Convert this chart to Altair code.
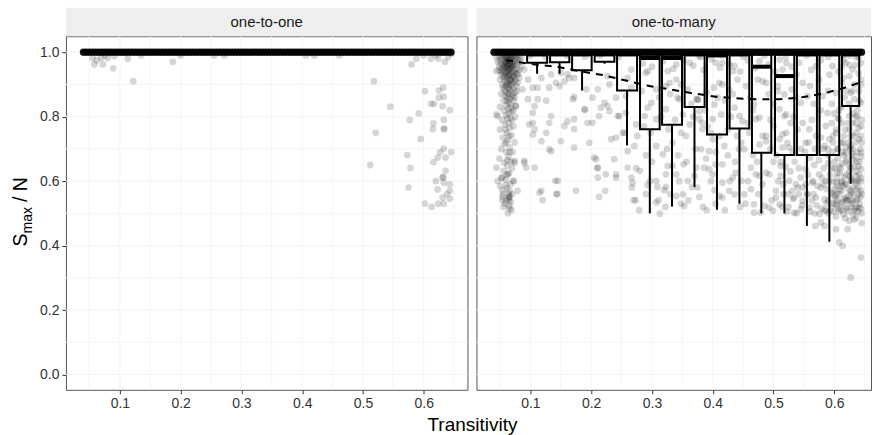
import altair as alt
import pandas as pd

# ---------------- data ----------------
# x positions of the observations sitting at S_max/N = 1.0 (both panels)
band_x = [0.040,0.045,0.050,0.055,0.060,0.065,0.070,0.075,0.080,0.085,0.090,0.095,0.100,0.105,0.110,0.115,
          0.120,0.125,0.130,0.135,0.140,0.145,0.150,0.155,0.160,0.165,0.170,0.175,0.180,0.185,0.190,0.195,
          0.200,0.205,0.210,0.215,0.220,0.225,0.230,0.235,0.240,0.245,0.250,0.255,0.260,0.265,0.270,0.275,
          0.280,0.285,0.290,0.295,0.300,0.305,0.310,0.315,0.320,0.325,0.330,0.335,0.340,0.345,0.350,0.355,
          0.360,0.365,0.370,0.375,0.380,0.385,0.390,0.395,0.400,0.405,0.410,0.415,0.420,0.425,0.430,0.435,
          0.440,0.445,0.450,0.455,0.460,0.465,0.470,0.475,0.480,0.485,0.490,0.495,0.500,0.505,0.510,0.515,
          0.520,0.525,0.530,0.535,0.540,0.545,0.550,0.555,0.560,0.565,0.570,0.575,0.580,0.585,0.590,0.595,
          0.600,0.605,0.610,0.615,0.620,0.625,0.630,0.635,0.640,0.645]

# one-to-one panel: observations below 1.0
left_pts = [[0.058,0.962],[0.072,0.962],[0.089,0.950],[0.055,0.982],[0.069,0.982],[0.080,0.982],[0.091,0.988],
            [0.062,0.975],[0.075,0.990],[0.113,0.980],[0.135,0.990],[0.122,0.910],[0.187,0.970],[0.200,0.990],
            [0.255,0.990],[0.272,0.990],[0.406,0.990],[0.420,0.990],[0.461,0.990],[0.518,0.910],[0.512,0.650],
            [0.521,0.750],[0.545,0.831],[0.580,0.962],[0.588,0.980],[0.612,0.980],[0.624,0.980],[0.635,0.970],
            [0.602,0.879],[0.625,0.881],[0.632,0.890],[0.612,0.840],[0.617,0.840],[0.625,0.859],[0.633,0.862],
            [0.631,0.833],[0.643,0.820],[0.592,0.810],[0.577,0.790],[0.616,0.779],[0.633,0.790],[0.615,0.761],
            [0.633,0.761],[0.634,0.763],[0.595,0.731],[0.573,0.681],[0.578,0.641],[0.616,0.659],[0.623,0.673],
            [0.636,0.673],[0.633,0.701],[0.627,0.690],[0.645,0.690],[0.620,0.600],[0.631,0.611],[0.632,0.613],
            [0.636,0.632],[0.633,0.595],[0.643,0.590],[0.623,0.574],[0.643,0.570],[0.631,0.549],[0.643,0.546],
            [0.575,0.580],[0.602,0.530],[0.613,0.520],[0.624,0.530],[0.633,0.530],[0.638,0.560],
            [0.600,0.990],[0.620,0.990],[0.640,0.985],[0.645,0.995]]

# one-to-many panel: dense cluster at low transitivity
right_cluster_low = [[0.048,0.990],[0.052,0.985],[0.056,0.992],[0.060,0.988],[0.064,0.993],[0.068,0.986],[0.072,0.991],
                     [0.076,0.987],[0.080,0.992],[0.050,0.975],[0.054,0.978],[0.058,0.972],[0.062,0.980],[0.066,0.974],
                     [0.070,0.979],[0.074,0.971],[0.078,0.977],[0.082,0.981],[0.051,0.965],[0.055,0.960],[0.059,0.966],
                     [0.063,0.958],[0.067,0.963],[0.071,0.957],[0.075,0.962],[0.079,0.966],[0.053,0.950],[0.057,0.945],
                     [0.061,0.952],[0.065,0.947],[0.069,0.951],[0.073,0.944],[0.077,0.949],[0.055,0.938],[0.059,0.933],
                     [0.063,0.940],[0.067,0.935],[0.071,0.930],[0.075,0.936],[0.057,0.925],[0.061,0.920],[0.065,0.927],
                     [0.069,0.918],[0.073,0.923],[0.058,0.910],[0.062,0.905],[0.066,0.912],[0.070,0.903],[0.074,0.908],
                     [0.060,0.895],[0.064,0.890],[0.068,0.897],[0.072,0.888],[0.059,0.878],[0.063,0.872],[0.067,0.880],
                     [0.071,0.868],[0.062,0.860],[0.066,0.855],[0.070,0.862],[0.060,0.997],[0.065,0.997],[0.070,0.997],
                     [0.055,0.997],[0.058,0.982],[0.066,0.982],[0.074,0.982],[0.062,0.965],[0.070,0.965],[0.060,0.955],
                     [0.068,0.955],[0.064,0.945],[0.064,0.930],[0.066,0.915],[0.064,0.900],[0.064,0.845],[0.060,0.835],
                     [0.068,0.828],[0.057,0.818],[0.065,0.810],[0.062,0.795],[0.070,0.788],[0.058,0.775],[0.066,0.765],
                     [0.061,0.750],[0.069,0.742],[0.063,0.728],[0.057,0.715],[0.066,0.705],[0.060,0.690],[0.064,0.676],
                     [0.068,0.660],[0.062,0.648],[0.056,0.632],[0.065,0.625],[0.059,0.605],[0.067,0.590],[0.061,0.578],
                     [0.055,0.560],[0.064,0.548],[0.058,0.530],[0.066,0.515],[0.063,0.500],[0.046,0.802],[0.044,0.941],
                     [0.076,0.833],[0.074,0.663],[0.044,0.807]]

right_cluster_low2 = [[0.044,0.985],[0.046,0.970],[0.049,0.955],[0.083,0.970],[0.085,0.955],[0.081,0.945],[0.052,0.940],
                      [0.078,0.930],[0.056,0.920],[0.076,0.915],[0.054,0.900],[0.077,0.895],[0.057,0.885],[0.075,0.875],
                      [0.058,0.865],[0.073,0.850],[0.061,0.850],[0.067,0.840],[0.063,0.825],[0.069,0.815],[0.060,0.805],
                      [0.067,0.795],[0.064,0.780],[0.059,0.760],[0.065,0.740],[0.060,0.720],[0.066,0.690],[0.062,0.665],
                      [0.061,0.620],[0.066,0.570],[0.060,0.540],[0.062,0.975],[0.068,0.970],[0.058,0.960],[0.066,0.950],
                      [0.060,0.940],[0.070,0.940],[0.062,0.925],[0.068,0.910],[0.060,0.900],[0.066,0.885],[0.064,0.870]]

right_cluster_low3 = [[0.048,0.945],[0.052,0.930],[0.072,0.925],[0.080,0.935],[0.050,0.915],[0.082,0.920],[0.055,0.890],
                      [0.079,0.905],[0.052,0.870],[0.078,0.880],[0.056,0.850],[0.074,0.860],[0.050,0.830],[0.072,0.820],
                      [0.054,0.790],[0.075,0.800],[0.050,0.760],[0.072,0.770],[0.055,0.735],[0.074,0.720],[0.052,0.700],
                      [0.071,0.690],[0.049,0.670],[0.070,0.640],[0.052,0.610],[0.073,0.600],[0.050,0.585],[0.070,0.560],
                      [0.056,0.520],[0.068,0.535],[0.060,0.985],[0.070,0.985],[0.065,0.975],[0.060,0.970],[0.072,0.960],
                      [0.056,0.955],[0.064,0.962]]

right_upper = [[0.090,0.946],[0.096,0.915],[0.087,0.885],[0.112,0.890],[0.118,0.920],[0.131,0.890],[0.142,0.905],
               [0.134,0.931],[0.150,0.936],[0.161,0.931],[0.172,0.920],[0.156,0.910],[0.148,0.895],[0.096,0.854],
               [0.112,0.854],[0.126,0.850],[0.172,0.861],[0.192,0.885],[0.202,0.859],[0.211,0.885],[0.230,0.900],
               [0.227,0.926],[0.241,0.859],[0.260,0.920],[0.266,0.946],[0.266,0.890],[0.257,0.864],[0.293,0.941],
               [0.326,0.941],[0.323,0.895],[0.293,0.828],[0.107,0.833],[0.104,0.812],[0.076,0.833],[0.290,0.936],
               [0.307,0.885],[0.299,0.843],[0.323,0.823],[0.329,0.905],[0.340,0.962],[0.342,0.859],[0.351,0.807],
               [0.359,0.885],[0.375,0.854],[0.376,0.852],[0.378,0.817],[0.405,0.967],[0.416,0.900],[0.408,0.859],
               [0.433,0.941],[0.436,0.828],[0.468,0.838],[0.482,0.910],[0.510,0.977],[0.507,0.879],[0.521,0.807],
               [0.104,0.890],[0.164,0.920],[0.170,0.854],[0.189,0.823],[0.190,0.821],[0.222,0.843],[0.227,0.833],
               [0.246,0.802],[0.340,0.915],[0.345,0.854],[0.362,0.967],[0.378,0.988],[0.373,0.854],[0.378,0.792],
               [0.383,0.781],[0.416,0.967],[0.411,0.905],[0.403,0.838],[0.414,0.807],[0.427,0.885],[0.436,0.957],
               [0.441,0.915],[0.444,0.802],[0.477,0.972],[0.474,0.915],[0.471,0.792],[0.488,0.905],[0.521,0.967],
               [0.515,0.946],[0.507,0.895],[0.518,0.869],[0.510,0.823],[0.518,0.802],[0.542,0.967],[0.548,0.905],
               [0.545,0.843],[0.556,0.864],[0.548,0.781],[0.559,0.761],[0.570,0.957],[0.575,0.915],[0.581,0.864],
               [0.589,0.812],[0.586,0.771],[0.597,0.957],[0.603,0.874],[0.608,0.792],[0.606,0.795],[0.603,0.750],
               [0.619,0.967],[0.625,0.926],[0.630,0.946],[0.627,0.874],[0.633,0.854],[0.625,0.802],[0.638,0.802],
               [0.630,0.781],[0.636,0.750],[0.641,0.730],[0.644,0.967],[0.644,0.915],[0.644,0.843],[0.644,0.771],
               [0.085,0.985],[0.100,0.990],[0.125,0.985],[0.160,0.990],[0.190,0.986],[0.215,0.990],[0.245,0.985],
               [0.280,0.990],[0.310,0.986],[0.345,0.990],[0.380,0.985],[0.415,0.990],[0.450,0.986],[0.485,0.990],
               [0.520,0.985],[0.555,0.990],[0.590,0.986],[0.615,0.990],[0.640,0.985]]

right_mid = [[0.098,0.776],[0.107,0.761],[0.126,0.750],[0.131,0.781],[0.134,0.802],[0.156,0.771],[0.161,0.786],
             [0.172,0.792],[0.172,0.761],[0.194,0.781],[0.202,0.781],[0.213,0.802],[0.216,0.828],[0.230,0.817],
             [0.244,0.802],[0.257,0.812],[0.252,0.750],[0.274,0.776],[0.276,0.740],[0.271,0.709],[0.260,0.693],
             [0.233,0.730],[0.197,0.719],[0.172,0.704],[0.134,0.693],[0.090,0.663],[0.208,0.668],[0.238,0.668],
             [0.307,0.709],[0.318,0.683],[0.288,0.802],[0.307,0.792],[0.362,0.776],[0.383,0.761],[0.397,0.750],
             [0.400,0.792],[0.449,0.786],[0.477,0.797],[0.488,0.724],[0.515,0.745],[0.526,0.704],[0.104,0.781],
             [0.104,0.745],[0.118,0.724],[0.131,0.699],[0.150,0.724],[0.205,0.673],[0.241,0.735],[0.255,0.750],
             [0.348,0.750],[0.334,0.719],[0.381,0.699],[0.394,0.693],[0.411,0.740],[0.400,0.730],[0.419,0.709],
             [0.447,0.719],[0.452,0.699],[0.460,0.750],[0.488,0.740],[0.482,0.740],[0.477,0.714],[0.521,0.750],
             [0.510,0.730],[0.523,0.719],[0.515,0.704],[0.553,0.719],[0.592,0.730],[0.584,0.709],[0.614,0.719],
             [0.627,0.709],[0.644,0.688],[0.619,0.688],[0.633,0.678]]

right_low = [[0.044,0.642],[0.057,0.657],[0.074,0.657],[0.090,0.657],[0.093,0.642],[0.107,0.642],[0.046,0.601],
             [0.054,0.611],[0.063,0.621],[0.071,0.601],[0.060,0.588],[0.054,0.572],[0.064,0.561],[0.065,0.551],
             [0.066,0.553],[0.079,0.570],[0.054,0.551],[0.054,0.541],[0.065,0.541],[0.065,0.523],[0.069,0.510],
             [0.118,0.570],[0.120,0.541],[0.141,0.601],[0.144,0.561],[0.175,0.570],[0.210,0.640],[0.211,0.642],
             [0.211,0.611],[0.213,0.551],[0.223,0.570],[0.241,0.621],[0.241,0.611],[0.266,0.611],[0.274,0.640],
             [0.280,0.632],[0.267,0.580],[0.270,0.541],[0.273,0.541],[0.279,0.510],[0.293,0.588],[0.307,0.601],
             [0.309,0.582],[0.320,0.572],[0.323,0.582],[0.307,0.534],[0.311,0.541],[0.313,0.499],[0.322,0.520],
             [0.323,0.621],[0.326,0.647],[0.143,0.559],[0.145,0.601],[0.115,0.564],[0.224,0.621],[0.260,0.642],
             [0.268,0.595],[0.334,0.647],[0.340,0.621],[0.352,0.652],[0.373,0.642],[0.359,0.601],[0.366,0.582],
             [0.370,0.616],[0.351,0.559],[0.340,0.554],[0.348,0.530],[0.353,0.523],[0.378,0.551],[0.390,0.510],
             [0.386,0.642],[0.394,0.637],[0.400,0.621],[0.405,0.652],[0.416,0.652],[0.416,0.595],[0.403,0.572],
             [0.411,0.554],[0.416,0.549],[0.405,0.530],[0.427,0.570],[0.433,0.611],[0.438,0.626],[0.447,0.601],
             [0.436,0.559],[0.452,0.559],[0.454,0.530],[0.463,0.575],[0.468,0.528],[0.468,0.502],[0.479,0.502],
             [0.485,0.523],[0.493,0.518],[0.463,0.642],[0.471,0.621],[0.477,0.616],[0.488,0.626],[0.493,0.621],
             [0.499,0.508],[0.504,0.570],[0.504,0.549],[0.510,0.528],[0.512,0.616],[0.512,0.647],[0.526,0.601],
             [0.531,0.570],[0.534,0.549],[0.534,0.502],[0.537,0.590],[0.545,0.611],[0.548,0.580],[0.548,0.539],
             [0.545,0.513],[0.553,0.637],[0.556,0.559],[0.559,0.518],[0.564,0.595],[0.569,0.461],[0.578,0.472],
             [0.584,0.461],[0.570,0.549],[0.575,0.621],[0.578,0.580],[0.584,0.544],[0.587,0.508],[0.592,0.601],
             [0.597,0.564],[0.600,0.528],[0.603,0.451],[0.605,0.626],[0.608,0.508],[0.608,0.410],[0.614,0.399],
             [0.614,0.585],[0.619,0.549],[0.622,0.451],[0.625,0.477],[0.627,0.642],[0.627,0.601],[0.627,0.570],
             [0.630,0.539],[0.633,0.508],[0.636,0.616],[0.636,0.575],[0.638,0.544],[0.641,0.518],[0.644,0.363],
             [0.627,0.301],[0.644,0.637],[0.644,0.599],[0.644,0.570],[0.636,0.487]]

right_extra = [[0.285,0.965],[0.300,0.955],[0.318,0.972],[0.335,0.948],[0.352,0.975],[0.368,0.958],[0.385,0.945],
               [0.398,0.978],[0.412,0.952],[0.428,0.962],[0.445,0.940],[0.458,0.975],[0.470,0.950],[0.492,0.962],
               [0.503,0.940],[0.530,0.955],[0.538,0.930],[0.562,0.945],[0.578,0.975],[0.592,0.930],[0.612,0.955],
               [0.283,0.880],[0.312,0.860],[0.330,0.870],[0.348,0.900],[0.365,0.840],[0.390,0.875],[0.402,0.890],
               [0.420,0.850],[0.433,0.870],[0.455,0.895],[0.462,0.860],[0.492,0.870],[0.500,0.840],[0.530,0.885],
               [0.537,0.860],[0.560,0.895],[0.566,0.840],[0.590,0.880],[0.596,0.840],[0.612,0.905],[0.617,0.860],
               [0.641,0.880],[0.287,0.770],[0.298,0.750],[0.315,0.800],[0.327,0.760],[0.338,0.790],[0.356,0.740],
               [0.368,0.800],[0.388,0.820],[0.392,0.770],[0.425,0.760],[0.430,0.800],[0.440,0.740],[0.458,0.780],
               [0.466,0.820],[0.495,0.790],[0.500,0.770],[0.528,0.780],[0.533,0.800],[0.540,0.760],[0.563,0.790],
               [0.570,0.740],[0.578,0.820],[0.596,0.780],[0.600,0.810],[0.618,0.760],[0.632,0.740],[0.290,0.680],
               [0.300,0.660],[0.325,0.700],[0.343,0.680],[0.357,0.660],[0.372,0.700],[0.389,0.670],[0.405,0.690],
               [0.425,0.680],[0.437,0.660],[0.443,0.700],[0.466,0.680],[0.473,0.660],[0.495,0.700],[0.500,0.660],
               [0.532,0.690],[0.545,0.700],[0.558,0.720],[0.568,0.700],[0.578,0.735],[0.590,0.700],[0.598,0.720],
               [0.606,0.700],[0.623,0.720],[0.638,0.690],[0.290,0.560],[0.297,0.600],[0.330,0.560],[0.345,0.600],
               [0.360,0.540],[0.375,0.580],[0.384,0.520],[0.397,0.600],[0.420,0.510],[0.428,0.600],[0.445,0.520],
               [0.458,0.600],[0.475,0.560],[0.482,0.590],[0.497,0.540],[0.516,0.560],[0.525,0.520],[0.542,0.560],
               [0.553,0.590],[0.566,0.560],[0.582,0.590],[0.590,0.540],[0.604,0.560],[0.612,0.600],[0.621,0.540],
               [0.640,0.560]]

right_cluster_high = [[0.598,0.690],[0.606,0.672],[0.613,0.655],[0.621,0.668],[0.629,0.684],[0.637,0.661],[0.644,0.676],
                      [0.601,0.640],[0.609,0.625],[0.617,0.612],[0.625,0.630],[0.633,0.645],[0.641,0.620],[0.597,0.598],
                      [0.605,0.585],[0.612,0.570],[0.620,0.590],[0.628,0.560],[0.636,0.595],[0.643,0.550],[0.602,0.545],
                      [0.610,0.530],[0.618,0.520],[0.626,0.540],[0.634,0.515],[0.642,0.530],[0.599,0.505],[0.607,0.515],
                      [0.615,0.498],[0.623,0.506],[0.631,0.495],[0.639,0.505],[0.611,0.720],[0.619,0.705],[0.627,0.740],
                      [0.635,0.720],[0.643,0.700],[0.603,0.760],[0.622,0.780],[0.640,0.765],[0.630,0.810],[0.612,0.830],
                      [0.642,0.850],[0.620,0.880],[0.633,0.900],[0.607,0.940],[0.625,0.960],[0.640,0.935],[0.615,0.975],
                      [0.636,0.985],[0.552,0.690],[0.560,0.672],[0.567,0.650],[0.575,0.665],[0.583,0.640],[0.590,0.655],
                      [0.557,0.620],[0.565,0.600],[0.572,0.585],[0.580,0.610],[0.588,0.575],[0.595,0.560],[0.555,0.560],
                      [0.563,0.540],[0.571,0.525],[0.579,0.515],[0.587,0.530],[0.594,0.510],[0.560,0.505],[0.568,0.500],
                      [0.576,0.498],[0.584,0.510],[0.505,0.680],[0.512,0.660],[0.520,0.645],[0.528,0.630],[0.535,0.660],
                      [0.542,0.640],[0.508,0.600],[0.516,0.590],[0.524,0.560],[0.532,0.545],[0.540,0.580],[0.547,0.525],
                      [0.514,0.520],[0.522,0.505],[0.538,0.500]]

right_cluster_high2 = [[0.600,0.660],[0.608,0.645],[0.616,0.680],[0.624,0.650],[0.632,0.665],[0.640,0.645],[0.604,0.610],
                       [0.612,0.595],[0.620,0.620],[0.628,0.605],[0.636,0.630],[0.644,0.610],[0.600,0.575],[0.608,0.560],
                       [0.616,0.545],[0.624,0.575],[0.632,0.560],[0.640,0.580],[0.604,0.525],[0.612,0.510],[0.620,0.540],
                       [0.628,0.520],[0.636,0.540],[0.644,0.515],[0.606,0.700],[0.616,0.740],[0.626,0.700],[0.636,0.780],
                       [0.644,0.740],[0.608,0.820],[0.624,0.840],[0.638,0.820],[0.615,0.920],[0.630,0.880],[0.644,0.900],
                       [0.635,0.960],[0.625,0.990]]

right_cluster_high3 = [[0.582,0.700],[0.590,0.680],[0.596,0.640],[0.604,0.595],[0.611,0.640],[0.619,0.660],[0.626,0.615],
                       [0.634,0.600],[0.642,0.660],[0.586,0.600],[0.593,0.620],[0.601,0.555],[0.609,0.575],[0.617,0.590],
                       [0.624,0.555],[0.631,0.580],[0.639,0.600],[0.645,0.560],[0.590,0.500],[0.597,0.530],[0.605,0.540],
                       [0.613,0.535],[0.621,0.515],[0.629,0.530],[0.637,0.520],[0.645,0.500],[0.603,0.490],[0.618,0.485],
                       [0.633,0.480],[0.645,0.470],[0.614,0.690],[0.630,0.700],[0.645,0.720],[0.598,0.740],[0.625,0.760],
                       [0.636,0.800],[0.612,0.780],[0.645,0.790]]

# box-plot summaries per transitivity bin (one-to-many)
box_x0 = [0.0946,0.1324,0.1686,0.2058,0.2426,0.2804,0.3166,0.3538,0.3906,0.4278,0.4646,0.5025,0.5386,0.5758,0.6127]
box_x1 = [0.1275,0.1641,0.2008,0.2382,0.2755,0.3127,0.3495,0.3867,0.4235,0.4602,0.4964,0.5342,0.5715,0.6082,0.6411]
box_xc = [0.111,0.148,0.185,0.222,0.259,0.2965,0.333,0.370,0.407,0.444,0.480,0.518,0.555,0.592,0.627]
box_low = [0.933,0.933,0.881,0.964,0.711,0.500,0.521,0.582,0.511,0.530,0.500,0.500,0.461,0.412,0.592]
box_q1 = [0.967,0.969,0.944,0.970,0.881,0.761,0.775,0.830,0.745,0.763,0.688,0.681,0.681,0.681,0.833]
box_med = [0.993,0.993,0.993,0.993,0.993,0.982,0.982,0.993,0.990,0.993,0.955,0.926,0.993,0.993,0.993]
box_q3 = [0.993,0.993,0.993,0.993,0.993,0.993,0.993,0.993,0.993,0.993,0.993,0.993,0.993,0.993,0.993]

# smooth trend (one-to-many)
smooth_x = [0.060,0.085,0.107,0.144,0.181,0.219,0.255,0.296,0.329,0.362,0.405,0.438,0.471,0.510,0.543,0.581,0.614,0.641]
smooth_y = [0.975,0.968,0.962,0.955,0.941,0.929,0.913,0.895,0.885,0.874,0.862,0.857,0.854,0.854,0.859,0.871,0.888,0.905]

x_ticks = [0.1, 0.2, 0.3, 0.4, 0.5, 0.6]
y_ticks = [0.0, 0.2, 0.4, 0.6, 0.8, 1.0]
grid_x = [0.05, 0.10, 0.15, 0.20, 0.25, 0.30, 0.35, 0.40, 0.45, 0.50, 0.55, 0.60, 0.65]
grid_y = [0.0, 0.1, 0.2, 0.3, 0.4, 0.5, 0.6, 0.7, 0.8, 0.9, 1.0]
panels = ["one-to-one", "one-to-many"]

# ---------------- layout ----------------
FONT = "Liberation Sans"
W_L, W_R, H = 402, 395, 354
XDOM_L = [0.0112, 0.672]
XDOM_R = [0.0112, 0.6605]
YDOM = [-0.0474, 1.0496]
PT_SIZE = 46
PT_OPACITY = 0.16
GRID_COLOR = "#F4F4F4"

def pts_df(*lists):
    return pd.DataFrame([{"x": p[0], "y": p[1]} for L in lists for p in L])

band_df = pd.DataFrame({"x": band_x, "y": [1.0] * len(band_x)})
box_df = pd.DataFrame({"x0": box_x0, "x1": box_x1, "xc": box_xc, "low": box_low,
                       "q1": box_q1, "med": box_med, "q3": box_q3})
smooth_df = pd.DataFrame({"x": smooth_x, "y": smooth_y})
gx_df = pd.DataFrame({"g": grid_x})
gy_df = pd.DataFrame({"g": grid_y})
one = pd.DataFrame({"t": [""]})

def xs(dom):
    return alt.Scale(domain=dom, nice=False, zero=False)

ys = alt.Scale(domain=YDOM, nice=False, zero=False)

x_axis = alt.Axis(values=x_ticks, format=".1f", title=None, grid=False, domain=False,
                  tickColor="#333333", tickSize=4, labelFontSize=14, labelColor="#333333",
                  labelFont=FONT, labelPadding=3)
y_axis = alt.Axis(values=y_ticks, format=".1f", title=None, grid=False, domain=False,
                  tickColor="#333333", tickSize=4, labelFontSize=14, labelColor="#333333",
                  labelFont=FONT, labelPadding=3)


def panel(dom, width, scatter_df, yax, label):
    grid_v = alt.Chart(gx_df).mark_rule(color=GRID_COLOR, strokeWidth=1).encode(
        x=alt.X("g:Q", scale=xs(dom), axis=x_axis))
    grid_h = alt.Chart(gy_df).mark_rule(color=GRID_COLOR, strokeWidth=1).encode(
        y=alt.Y("g:Q", scale=ys, axis=yax))
    scat = alt.Chart(scatter_df).mark_circle(size=PT_SIZE, color="black", opacity=PT_OPACITY).encode(
        x=alt.X("x:Q", scale=xs(dom), axis=x_axis),
        y=alt.Y("y:Q", scale=ys, axis=yax))
    band = alt.Chart(band_df).mark_circle(size=52, color="black", opacity=0.92).encode(
        x=alt.X("x:Q", scale=xs(dom), axis=x_axis),
        y=alt.Y("y:Q", scale=ys, axis=yax))
    strip = alt.Chart(pd.DataFrame({"t": [label]})).mark_rect(color="#EFEFEF").encode(
        x=alt.value(0), x2=alt.value(width), y=alt.value(-28.5), y2=alt.value(0))
    strip_t = alt.Chart(pd.DataFrame({"t": [label]})).mark_text(
        font=FONT, fontSize=15, color="#1A1A1A", align="center", baseline="middle").encode(
        text="t:N", x=alt.value(width / 2), y=alt.value(-14))
    return [grid_v, grid_h, scat, band, strip, strip_t]


# left panel
left_layers = panel(XDOM_L, W_L, pts_df(left_pts), y_axis, panels[0])
anchor = alt.Chart(one).mark_rect(color="white", opacity=0).encode(
    x=alt.value(-65), x2=alt.value(0), y=alt.value(-35), y2=alt.value(398))
y_title_s = alt.Chart(pd.DataFrame({"t": ["S"]})).mark_text(
    font=FONT, fontSize=19.5, color="black", angle=270, align="left", baseline="alphabetic").encode(
    text="t:N", x=alt.value(-39), y=alt.value(210.5))
y_title_sub = alt.Chart(pd.DataFrame({"t": ["max"]})).mark_text(
    font=FONT, fontSize=14, color="black", angle=270, align="left", baseline="alphabetic").encode(
    text="t:N", x=alt.value(-34), y=alt.value(197.5))
y_title_n = alt.Chart(pd.DataFrame({"t": ["/ N"]})).mark_text(
    font=FONT, fontSize=19.5, color="black", angle=270, align="left", baseline="alphabetic").encode(
    text="t:N", x=alt.value(-39), y=alt.value(166))
x_title = alt.Chart(pd.DataFrame({"t": ["Transitivity"]})).mark_text(
    font=FONT, fontSize=19, color="black", align="center", baseline="alphabetic").encode(
    text="t:N", x=alt.value(407), y=alt.value(395))

left = alt.layer(*left_layers, anchor, y_title_s, y_title_sub, y_title_n, x_title).properties(
    width=W_L, height=H)

# right panel
right_layers = panel(XDOM_R, W_R,
                     pts_df(right_cluster_low, right_cluster_low2, right_cluster_low3, right_upper, right_mid,
                            right_low, right_extra, right_cluster_high, right_cluster_high2, right_cluster_high3),
                     None, panels[1])
boxes = alt.Chart(box_df).mark_rect(fill="white", fillOpacity=0, stroke="black", strokeWidth=2).encode(
    x=alt.X("x0:Q", scale=xs(XDOM_R), axis=x_axis), x2="x1:Q",
    y=alt.Y("q1:Q", scale=ys, axis=None), y2="q3:Q")
whisk = alt.Chart(box_df).mark_rule(color="black", strokeWidth=2).encode(
    x=alt.X("xc:Q", scale=xs(XDOM_R), axis=x_axis),
    y=alt.Y("low:Q", scale=ys, axis=None), y2="q1:Q")
medians = alt.Chart(box_df).mark_rule(color="black", strokeWidth=4).encode(
    x=alt.X("x0:Q", scale=xs(XDOM_R), axis=x_axis), x2="x1:Q",
    y=alt.Y("med:Q", scale=ys, axis=None))
smooth = alt.Chart(smooth_df).mark_line(color="black", strokeWidth=2, strokeDash=[7, 6]).encode(
    x=alt.X("x:Q", scale=xs(XDOM_R), axis=x_axis),
    y=alt.Y("y:Q", scale=ys, axis=None))

g_v, g_h, scat_r, band_r, strip_r, strip_rt = right_layers
right = alt.layer(g_v, g_h, scat_r, band_r, whisk, boxes, medians, smooth, strip_r, strip_rt).properties(
    width=W_R, height=H)

chart = alt.hconcat(left, right, spacing=9, bounds="flush").properties(
    padding={"left": 0, "top": 0, "right": 0, "bottom": 0},
    background="white",
).configure_view(stroke="#555555", strokeWidth=1)

chart.save("out.html", embed_options={"renderer": "svg", "actions": False})
